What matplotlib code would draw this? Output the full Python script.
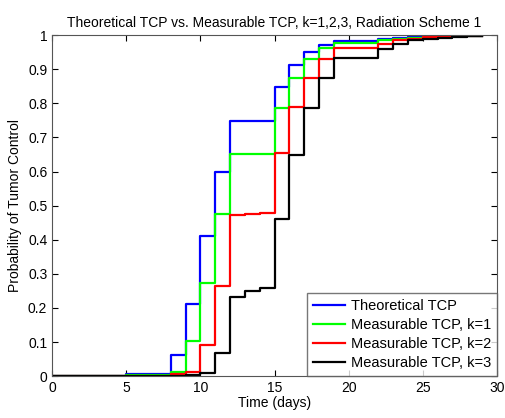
import numpy as np
import matplotlib.pyplot as plt

plt.rcParams['font.family'] = ['Liberation Sans', 'DejaVu Sans']

# step values (holding after each day)
days = [0, 2, 5, 8, 9, 10, 11, 12, 13, 14, 15, 16, 17, 18, 19, 20, 21, 22, 23, 24, 25, 26, 27, 28, 29]

theoretical = [0.0, 0.002, 0.005, 0.063, 0.211, 0.41, 0.599, 0.748, 0.748, 0.748, 0.847, 0.912,
               0.951, 0.972, 0.983, 0.983, 0.983, 0.99, 0.992, 0.994, 0.996, 0.997, 0.998, 0.998, 0.998]
k1 = [0.0, 0.001, 0.003, 0.013, 0.104, 0.274, 0.475, 0.652, 0.652, 0.652, 0.785, 0.873,
      0.929, 0.961, 0.977, 0.977, 0.977, 0.986, 0.99, 0.992, 0.995, 0.996, 0.997, 0.998, 0.998]
k2 = [0.0, 0.0, 0.002, 0.005, 0.013, 0.091, 0.264, 0.472, 0.477, 0.479, 0.655, 0.79,
      0.873, 0.929, 0.963, 0.963, 0.963, 0.975, 0.985, 0.99, 0.993, 0.995, 0.997, 0.998, 0.998]
k3 = [0.0, 0.0, 0.0, 0.002, 0.004, 0.008, 0.068, 0.232, 0.25, 0.258, 0.461, 0.648,
      0.785, 0.873, 0.932, 0.932, 0.932, 0.959, 0.975, 0.985, 0.988, 0.992, 0.995, 0.997, 0.998]

fig = plt.figure(figsize=(5.06, 4.18), dpi=100)
ax = fig.add_axes([0.103, 0.1, 0.879, 0.816])

ax.step(days, theoretical, where='post', color='blue', lw=1.6, label='Theoretical TCP')
ax.step(days, k1, where='post', color='#00ff00', lw=1.6, label='Measurable TCP, k=1')
ax.step(days, k2, where='post', color='red', lw=1.6, label='Measurable TCP, k=2')
ax.step(days, k3, where='post', color='black', lw=1.6, label='Measurable TCP, k=3')

ax.set_xlim(0, 30)
ax.set_ylim(0, 1)
ax.set_xticks(np.arange(0, 31, 5))
ax.set_yticks(np.arange(0, 1.01, 0.1))
ax.set_yticklabels(['0', '0.1', '0.2', '0.3', '0.4', '0.5', '0.6', '0.7', '0.8', '0.9', '1'])
ax.tick_params(direction='in', top=True, right=True, labelsize=10, length=4)
for s in ax.spines.values():
    s.set_color('#555555')

ax.set_title('Theoretical TCP vs. Measurable TCP, k=1,2,3, Radiation Scheme 1', fontsize=10)
ax.set_xlabel('Time (days)', fontsize=10, labelpad=1)
ax.set_ylabel('Probability of Tumor Control', fontsize=10)

leg = ax.legend(loc='lower right', fontsize=10.5, fancybox=False, borderaxespad=0,
                handlelength=2.2, labelspacing=0.35, borderpad=0.4, handletextpad=0.4)
leg.get_frame().set_edgecolor('#555555')

fig.savefig('out.png', dpi=100)
